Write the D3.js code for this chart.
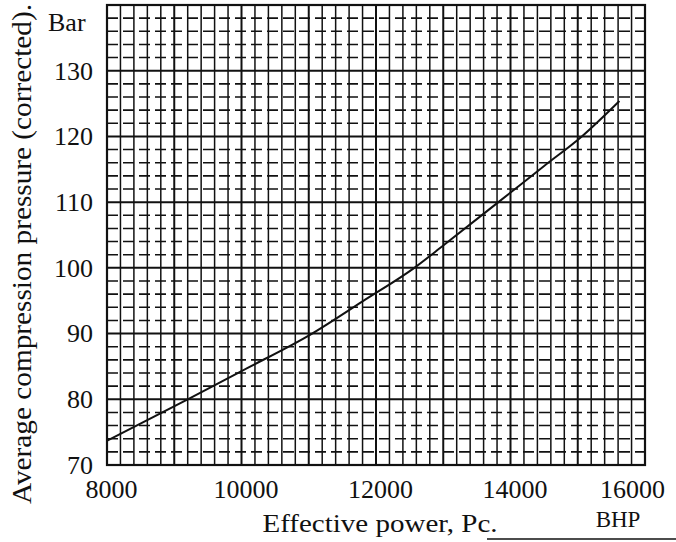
<!DOCTYPE html>
<html>
<head>
<meta charset="utf-8">
<script src="https://cdn.jsdelivr.net/npm/d3@7"></script>
<style>
  body { margin: 0; background: #fff; }
  svg text { font-family: "Liberation Serif", "DejaVu Serif", serif !important; fill: #111; }
</style>
</head>
<body>
<div id="chart"></div>
<script>
// Values
const powerBHP = [8000, 9200, 10000, 11050, 11800, 12570, 13000, 13820, 14500, 15060, 15620];
const pressureBar = [73.7, 80, 84.3, 90, 94.9, 100, 103.4, 110, 115.5, 120, 125.4];
const xTickLabels = [8000, 10000, 12000, 14000, 16000];
const yTickLabels = [70, 80, 90, 100, 110, 120, 130];

const width = 676;
const height = 542;
const margin = { top: 5, right: 31, bottom: 77, left: 107 };

const svg = d3.select("#chart")
    .append("svg")
    .attr("width", width)
    .attr("height", height);

// Scales
const xScale = d3.scaleLinear()
    .domain([8000, 16000])
    .range([margin.left, width - margin.right]);

const yScale = d3.scaleLinear()
    .domain([70, 140])
    .range([height - margin.bottom, margin.top]);

const grid = svg.append("g").attr("stroke", "#111");

// Vertical grid lines, every 200 BHP, heavier every 1000
grid.selectAll(".v-line")
    .data(d3.range(8000, 16001, 200))
    .enter()
    .append("line")
    .attr("x1", d => xScale(d))
    .attr("x2", d => xScale(d))
    .attr("y1", yScale(140))
    .attr("y2", yScale(70))
    .attr("stroke-width", d => d % 1000 === 0 ? 2 : 1.5);

// Horizontal grid lines, dashed every 2 bar, solid every 10
grid.selectAll(".h-line")
    .data(d3.range(70, 141, 2))
    .enter()
    .append("line")
    .attr("x1", xScale(8000))
    .attr("x2", xScale(16000))
    .attr("y1", d => yScale(d))
    .attr("y2", d => yScale(d))
    .attr("stroke-width", d => d % 10 === 0 ? 2 : 1.6)
    .attr("stroke-dasharray", d => d % 10 === 0 ? null : "11,5");

// Frame
svg.append("rect")
    .attr("x", xScale(8000))
    .attr("y", yScale(140))
    .attr("width", xScale(16000) - xScale(8000))
    .attr("height", yScale(70) - yScale(140))
    .attr("fill", "none")
    .attr("stroke", "#111")
    .attr("stroke-width", 2.2);

// Curve
const curveData = powerBHP.map((p, i) => ({ power: p, pressure: pressureBar[i] }));

const line = d3.line()
    .x(d => xScale(d.power))
    .y(d => yScale(d.pressure))
    .curve(d3.curveMonotoneX);

svg.append("path")
    .datum(curveData)
    .attr("fill", "none")
    .attr("stroke", "#111")
    .attr("stroke-width", 2)
    .attr("d", line);

// Axes (labels only)
svg.append("g")
    .attr("transform", `translate(0, ${yScale(70) + 12})`)
    .call(d3.axisBottom(xScale).tickValues(xTickLabels).tickSize(0).tickFormat(d => String(d)))
    .call(g => g.select(".domain").remove())
    .selectAll("text")
    .style("font-size", "26px")
    .attr("dx", d => d === 16000 ? -13 : 4) // last label sits left of its line in the original
    .attr("fill", "#111");

svg.append("g")
    .attr("transform", `translate(${xScale(8000) - 11}, 0)`)
    .call(d3.axisLeft(yScale).tickValues(yTickLabels).tickSize(0).tickFormat(d => String(d)))
    .call(g => g.select(".domain").remove())
    .selectAll("text")
    .style("font-size", "26px")
    .attr("fill", "#111");

// Unit labels
svg.append("text")
    .attr("x", 48)
    .attr("y", 31)
    .style("font-size", "26px")
    .text("Bar");

svg.append("text")
    .attr("x", 618)
    .attr("y", 527)
    .attr("text-anchor", "middle")
    .style("font-size", "23px")
    .text("BHP");

// Axis titles
svg.append("text")
    .attr("transform", "rotate(-90)")
    .attr("x", -254)
    .attr("y", 31)
    .attr("text-anchor", "middle")
    .attr("textLength", 500)
    .attr("lengthAdjust", "spacingAndGlyphs")
    .style("font-size", "27px")
    .text("Average compression pressure (corrected).");

svg.append("text")
    .attr("x", 380)
    .attr("y", 532)
    .attr("text-anchor", "middle")
    .attr("textLength", 235)
    .attr("lengthAdjust", "spacingAndGlyphs")
    .style("font-size", "26px")
    .text("Effective power, Pc.");

// Rule under the BHP label
svg.append("line")
    .attr("x1", 487)
    .attr("x2", width)
    .attr("y1", 539)
    .attr("y2", 539)
    .attr("stroke", "#111")
    .attr("stroke-width", 1.5);
</script>
</body>
</html>
